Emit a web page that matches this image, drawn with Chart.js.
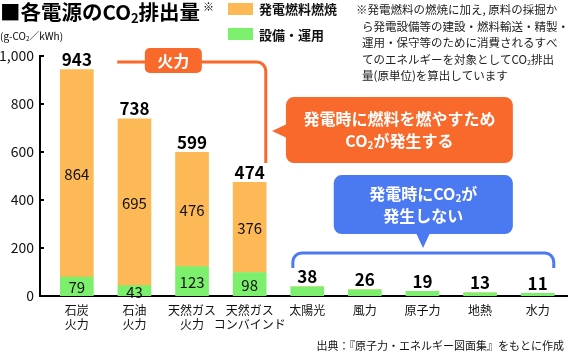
<!DOCTYPE html>
<html>
<head>
<meta charset="utf-8">
<script src="https://cdn.jsdelivr.net/npm/chart.js@4.4.0/dist/chart.umd.min.js"></script>
<style>
html, body { margin: 0; padding: 0; background: #fff; }
#wrap { width: 573px; height: 354px; position: relative; }
</style>
</head>
<body>
<div id="wrap"><canvas id="co2Chart"></canvas></div>
<script>
// data
const categories = [['石炭', '火力'], ['石油', '火力'], ['天然ガス', '火力'], ['天然ガス', 'コンバインド'], '太陽光', '風力', '原子力', '地熱', '水力'];
const fuelValues = [864, 695, 476, 376, 0, 0, 0, 0, 0];
const facilityValues = [79, 43, 123, 98, 38, 26, 19, 13, 11];
const yTicks = [0, 200, 400, 600, 800, 1000];
const seriesNames = ['発電燃料燃焼', '設備・運用'];

const JP = '"Noto Sans CJK JP", "Noto Sans", sans-serif';
const ORANGE = '#FDB955';
const GREEN = '#7CF06D';
const FIRE = '#F8692B';
const BLUE = '#4B79F2';

const noteLines = [
    '※発電燃料の燃焼に加え, 原料の採掘か',
    'ら発電設備等の建設・燃料輸送・精製・',
    '運用・保守等のために消費されるすべ',
    'てのエネルギーを対象としてCO₂排出',
    '量(原単位)を算出しています'
];

// draws text, turning "₂" into a small lowered 2; returns the width
function drawRich(ctx, text, x, y, size, weight, color, align) {
    const main = weight + ' ' + size + 'px ' + JP;
    const sub = weight + ' ' + Math.round(size * 0.62) + 'px ' + JP;
    const segs = [];
    text.split('₂').forEach((p, i, arr) => {
        if (p) { ctx.font = main; segs.push({ t: p, f: main, dy: 0, w: ctx.measureText(p).width }); }
        if (i < arr.length - 1) { ctx.font = sub; segs.push({ t: '2', f: sub, dy: size * 0.28, w: ctx.measureText('2').width }); }
    });
    const total = segs.reduce((s, g) => s + g.w, 0);
    let cx = align === 'center' ? x - total / 2 : align === 'right' ? x - total : x;
    ctx.fillStyle = color;
    ctx.textBaseline = 'middle';
    ctx.textAlign = 'left';
    segs.forEach(g => { ctx.font = g.f; ctx.fillText(g.t, cx, y + g.dy); cx += g.w; });
    return total;
}

const decorPlugin = {
    id: 'decor',
    afterDraw(chart) {
        const ctx = chart.ctx;
        const xs = chart.scales.x, ys = chart.scales.y;
        const px = v => xs.getPixelForValue(v);
        const py = v => ys.getPixelForValue(v);
        ctx.save();

        // inward y ticks
        ctx.strokeStyle = '#000';
        ctx.lineWidth = 2;
        ys.ticks.forEach(t => {
            if (t.value === 0) return;
            const y = Math.round(py(t.value));
            ctx.beginPath();
            ctx.moveTo(xs.left, y);
            ctx.lineTo(xs.left + 4, y);
            ctx.stroke();
        });

        // segment labels and totals
        const metaFac = chart.getDatasetMeta(0), metaFuel = chart.getDatasetMeta(1);
        ctx.textAlign = 'center';
        ctx.textBaseline = 'middle';
        fuelValues.forEach((f, i) => {
            const g = metaFac.data[i];
            if (f > 0) {
                const b = metaFuel.data[i];
                ctx.font = '15px ' + JP;
                ctx.fillStyle = '#111';
                ctx.fillText(String(f), b.x, (b.y + b.base) / 2 + 1);
                ctx.fillText(String(facilityValues[i]), g.x, (g.y + g.base) / 2 + 1);
            }
            ctx.font = 'bold 17px ' + JP;
            ctx.fillStyle = '#000';
            ctx.fillText(String(f + facilityValues[i]), g.x, py(f + facilityValues[i]) - 10);
        });

        // title + unit
        const tw = drawRich(ctx, '■各電源のCO₂排出量', 0, 12, 20.5, 'bold', '#000', 'left');
        ctx.font = 'bold 11px ' + JP;
        ctx.fillText('※', tw + 3, 7);
        drawRich(ctx, '(g-CO₂／kWh)', 0, 36, 10, 'normal', '#000', 'left');

        // legend
        [ORANGE, GREEN].forEach((c, i) => {
            ctx.fillStyle = c;
            ctx.fillRect(228, 3 + i * 25, 25, 12);
            drawRich(ctx, seriesNames[i], 259, 9 + i * 26, 13, 'bold', '#111', 'left');
        });

        // note
        noteLines.forEach((l, i) => {
            drawRich(ctx, l, i === 0 ? 356 : 362, 10 + i * 16.4, 11.5, 'normal', '#222', 'left');
        });

        // footer
        drawRich(ctx, '出典：『原子力・エネルギー図面集』をもとに作成', 564, 346, 11, 'normal', '#111', 'right');

        // fire bracket
        const r = 9;
        let x0 = px(0.7), x1 = px(3.28), yT = py(975), yB = py(554);
        ctx.strokeStyle = FIRE;
        ctx.lineWidth = 3;
        ctx.beginPath();
        ctx.moveTo(x0, yT);
        ctx.arcTo(x1, yT, x1, yT + r, r);
        ctx.lineTo(x1, yB);
        ctx.stroke();
        ctx.fillStyle = FIRE;
        ctx.beginPath();
        ctx.roundRect(px(1.18), py(1000) - 8, px(2.17) - px(1.18), 25, 5);
        ctx.fill();
        drawRich(ctx, '火力', (px(1.18) + px(2.17)) / 2, py(1000) + 4.5, 16, 'bold', '#fff', 'center');

        // fire callout
        let l = px(3.63), rr = px(7.57), t = py(829), b = py(554);
        ctx.fillStyle = FIRE;
        ctx.beginPath();
        ctx.roundRect(l, t, rr - l, b - t, 8);
        ctx.fill();
        ctx.beginPath();
        ctx.moveTo(l + 1, py(687) - 7);
        ctx.lineTo(px(3.39), py(687));
        ctx.lineTo(l + 1, py(687) + 7);
        ctx.fill();
        drawRich(ctx, '発電時に燃料を燃やすため', (l + rr) / 2, (t + b) / 2 - 11, 16, 'bold', '#fff', 'center');
        drawRich(ctx, 'CO₂が発生する', (l + rr) / 2, (t + b) / 2 + 11, 16, 'bold', '#fff', 'center');

        // blue callout
        l = px(4.46); t = py(504); b = py(258);
        ctx.fillStyle = BLUE;
        ctx.beginPath();
        ctx.roundRect(l, t, rr - l, b - t, 8);
        ctx.fill();
        const tipX = px(6.01);
        ctx.beginPath();
        ctx.moveTo(tipX - 7, b - 1);
        ctx.lineTo(tipX, py(200));
        ctx.lineTo(tipX + 7, b - 1);
        ctx.fill();
        drawRich(ctx, '発電時にCO₂が', (l + rr) / 2, (t + b) / 2 - 11, 16, 'bold', '#fff', 'center');
        drawRich(ctx, '発生しない', (l + rr) / 2, (t + b) / 2 + 11, 16, 'bold', '#fff', 'center');

        // blue bracket
        x0 = px(3.75); x1 = px(8.28); yT = py(179); yB = py(117);
        ctx.strokeStyle = BLUE;
        ctx.beginPath();
        ctx.moveTo(x0, yB);
        ctx.arcTo(x0, yT, x0 + r, yT, r);
        ctx.arcTo(x1, yT, x1, yT + r, r);
        ctx.lineTo(x1, yB);
        ctx.stroke();

        ctx.restore();
    }
};

const ctx = document.getElementById('co2Chart').getContext('2d');
new Chart(ctx, {
    type: 'bar',
    data: {
        datasets: [
            { label: seriesNames[1], data: facilityValues.map((v, i) => ({ x: i, y: v })), backgroundColor: GREEN },
            { label: seriesNames[0], data: fuelValues.map((v, i) => ({ x: i, y: v })), backgroundColor: ORANGE }
        ]
    },
    options: {
        responsive: true,
        maintainAspectRatio: false,
        animation: false,
        events: [],
        barThickness: 33,
        layout: { padding: { top: 56, right: 6, left: 0, bottom: 0 } },
        plugins: { legend: { display: false }, tooltip: { enabled: false }, title: { display: false } },
        scales: {
            x: {
                type: 'linear',
                stacked: true,
                offset: false,
                min: -0.64,
                max: 8.51,
                afterBuildTicks: s => { s.ticks = categories.map((c, i) => ({ value: i })); },
                afterFit: s => { s.height = 58; },
                grid: { display: false, drawTicks: false },
                border: { display: true, color: '#000', width: 2 },
                ticks: {
                    autoSkip: false,
                    maxRotation: 0,
                    padding: 7,
                    color: '#111',
                    font: { family: JP, size: 12, lineHeight: 1.17 },
                    callback: v => categories[v]
                }
            },
            y: {
                stacked: true,
                min: 0,
                max: 1000,
                afterBuildTicks: s => { s.ticks = yTicks.map(v => ({ value: v })); },
                afterFit: s => { s.width = 40; },
                grid: { display: false, drawTicks: false },
                border: { display: true, color: '#000', width: 2 },
                ticks: {
                    padding: 6,
                    color: '#111',
                    font: { family: JP, size: 14 },
                    callback: v => v.toLocaleString('en-US')
                }
            }
        }
    },
    plugins: [decorPlugin]
});
</script>
</body>
</html>
